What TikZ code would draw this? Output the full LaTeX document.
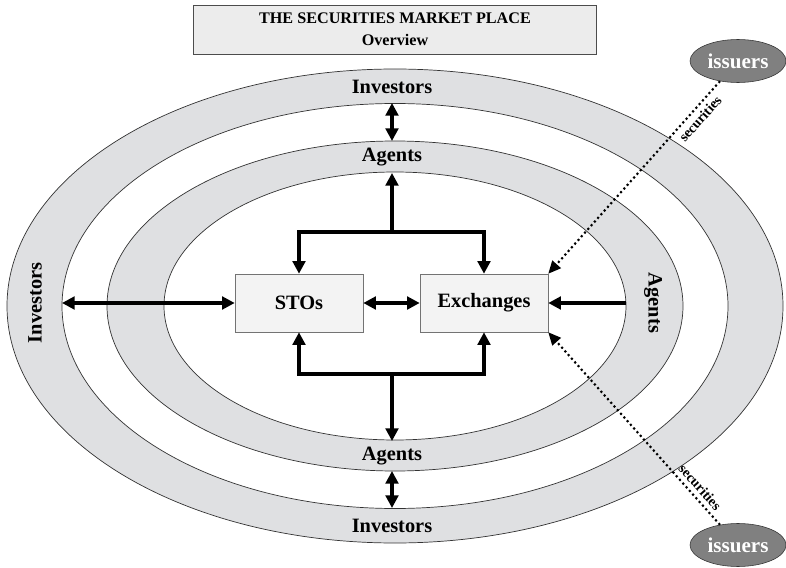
\documentclass[tikz,border=0pt]{standalone}
\usepackage{fontspec}
\setmainfont{Liberation Serif}
\usetikzlibrary{shapes.geometric, arrows.meta}
\usetikzlibrary{positioning}
\definecolor{bandgray}{RGB}{223,224,226}
\definecolor{boxgray}{RGB}{243,243,243}
\definecolor{titlegray}{RGB}{236,236,236}
\definecolor{issuergray}{RGB}{128,128,128}
\tikzset{
  band/.style={fill=bandgray, draw=black!80, line width=0.5pt},
  hole/.style={fill=white, draw=black!80, line width=0.5pt},
  market/.style={draw=black!55, fill=boxgray, minimum width=32mm, minimum height=14.5mm, font=\fontsize{14.5}{16}\selectfont\bfseries},
  ring/.style={font=\fontsize{14.5}{16}\selectfont\bfseries, inner sep=0pt},
  issuer/.style={ellipse, draw=black!80, fill=issuergray, text=white, minimum width=24mm, minimum height=10.75mm, inner sep=0pt, font=\fontsize{15}{16}\selectfont\bfseries},
  flow/.style={line width=2.2pt, -{Triangle[length=9pt, width=9pt]}},
  dflow/.style={line width=2.2pt, {Triangle[length=9pt, width=9pt]}-{Triangle[length=9pt, width=9pt]}},
  sec/.style={dotted, line width=1.5pt, -{Triangle[length=9pt, width=8pt]}},
  seclabel/.style={font=\fontsize{10}{10}\selectfont\bfseries, inner sep=3pt}
}
\begin{document}
\begin{tikzpicture}[x=0.25mm, y=-0.25mm]
\useasboundingbox (0,0) rectangle (786,568);
% rings
\draw[band] (395,306) ellipse [x radius=388, y radius=237];
\draw[hole] (395,306) ellipse [x radius=333, y radius=202.5];
\draw[band] (395,306) ellipse [x radius=288, y radius=165];
\draw[hole] (395,306) ellipse [x radius=231, y radius=134];
% title
\node[draw=black!70, fill=titlegray, minimum width=100.75mm, minimum height=12.25mm, align=center, font=\fontsize{11.5}{15.5}\selectfont\bfseries] (title) at (395,29.5) {THE SECURITIES MARKET PLACE\\Overview};
% ring labels
\node[ring] (invTop) at (392,87) {Investors};
\node[ring] (agTop) at (392,157) {Agents};
\node[ring] (agBot) at (392,456) {Agents};
\node[ring] (invBot) at (392,526) {Investors};
\node[ring, rotate=90] (invLeft) at (35,303) {Investors};
\node[ring, rotate=-90] (agRight) at (653,303) {Agents};
% boxes
\node[market] (sto) at (299,303) {STOs};
\node[market] (exch) at (484,303) {Exchanges};
\node[issuer] (issTop) at (738,61) {issuers};
\node[issuer] (issBot) at (738,545) {issuers};
% edge points
\coordinate (invT) at (392,103);
\coordinate (agTo) at (392,141);
\coordinate (agT) at (392,173);
\coordinate (junT) at (392,232);
\coordinate (junB) at (392,374);
\coordinate (agB) at (392,441);
\coordinate (agBo) at (392,471);
\coordinate (invB) at (392,508);
\coordinate (invL) at (62,303);
\coordinate (agR) at (626,303);
% flows
\draw[dflow] (invT) -- (agTo);
\draw[dflow] (agBo) -- (invB);
\draw[flow] (junT) -- (agT);
\draw[flow] (junT) -| (sto);
\draw[flow] (junT) -| (exch);
\draw[flow] (junB) -- (agB);
\draw[flow] (junB) -| (sto);
\draw[flow] (junB) -| (exch);
\draw[dflow] (invL) -- (sto);
\draw[dflow] (sto) -- (exch);
\draw[flow] (agR) -- (exch);
% securities
\draw[sec] (issTop) -- node[seclabel, sloped, below, pos=0.16] {securities} (exch.north east);
\draw[sec] (issBot) -- node[seclabel, sloped, above, pos=0.16] {securities} (exch.south east);
\end{tikzpicture}
\end{document}
